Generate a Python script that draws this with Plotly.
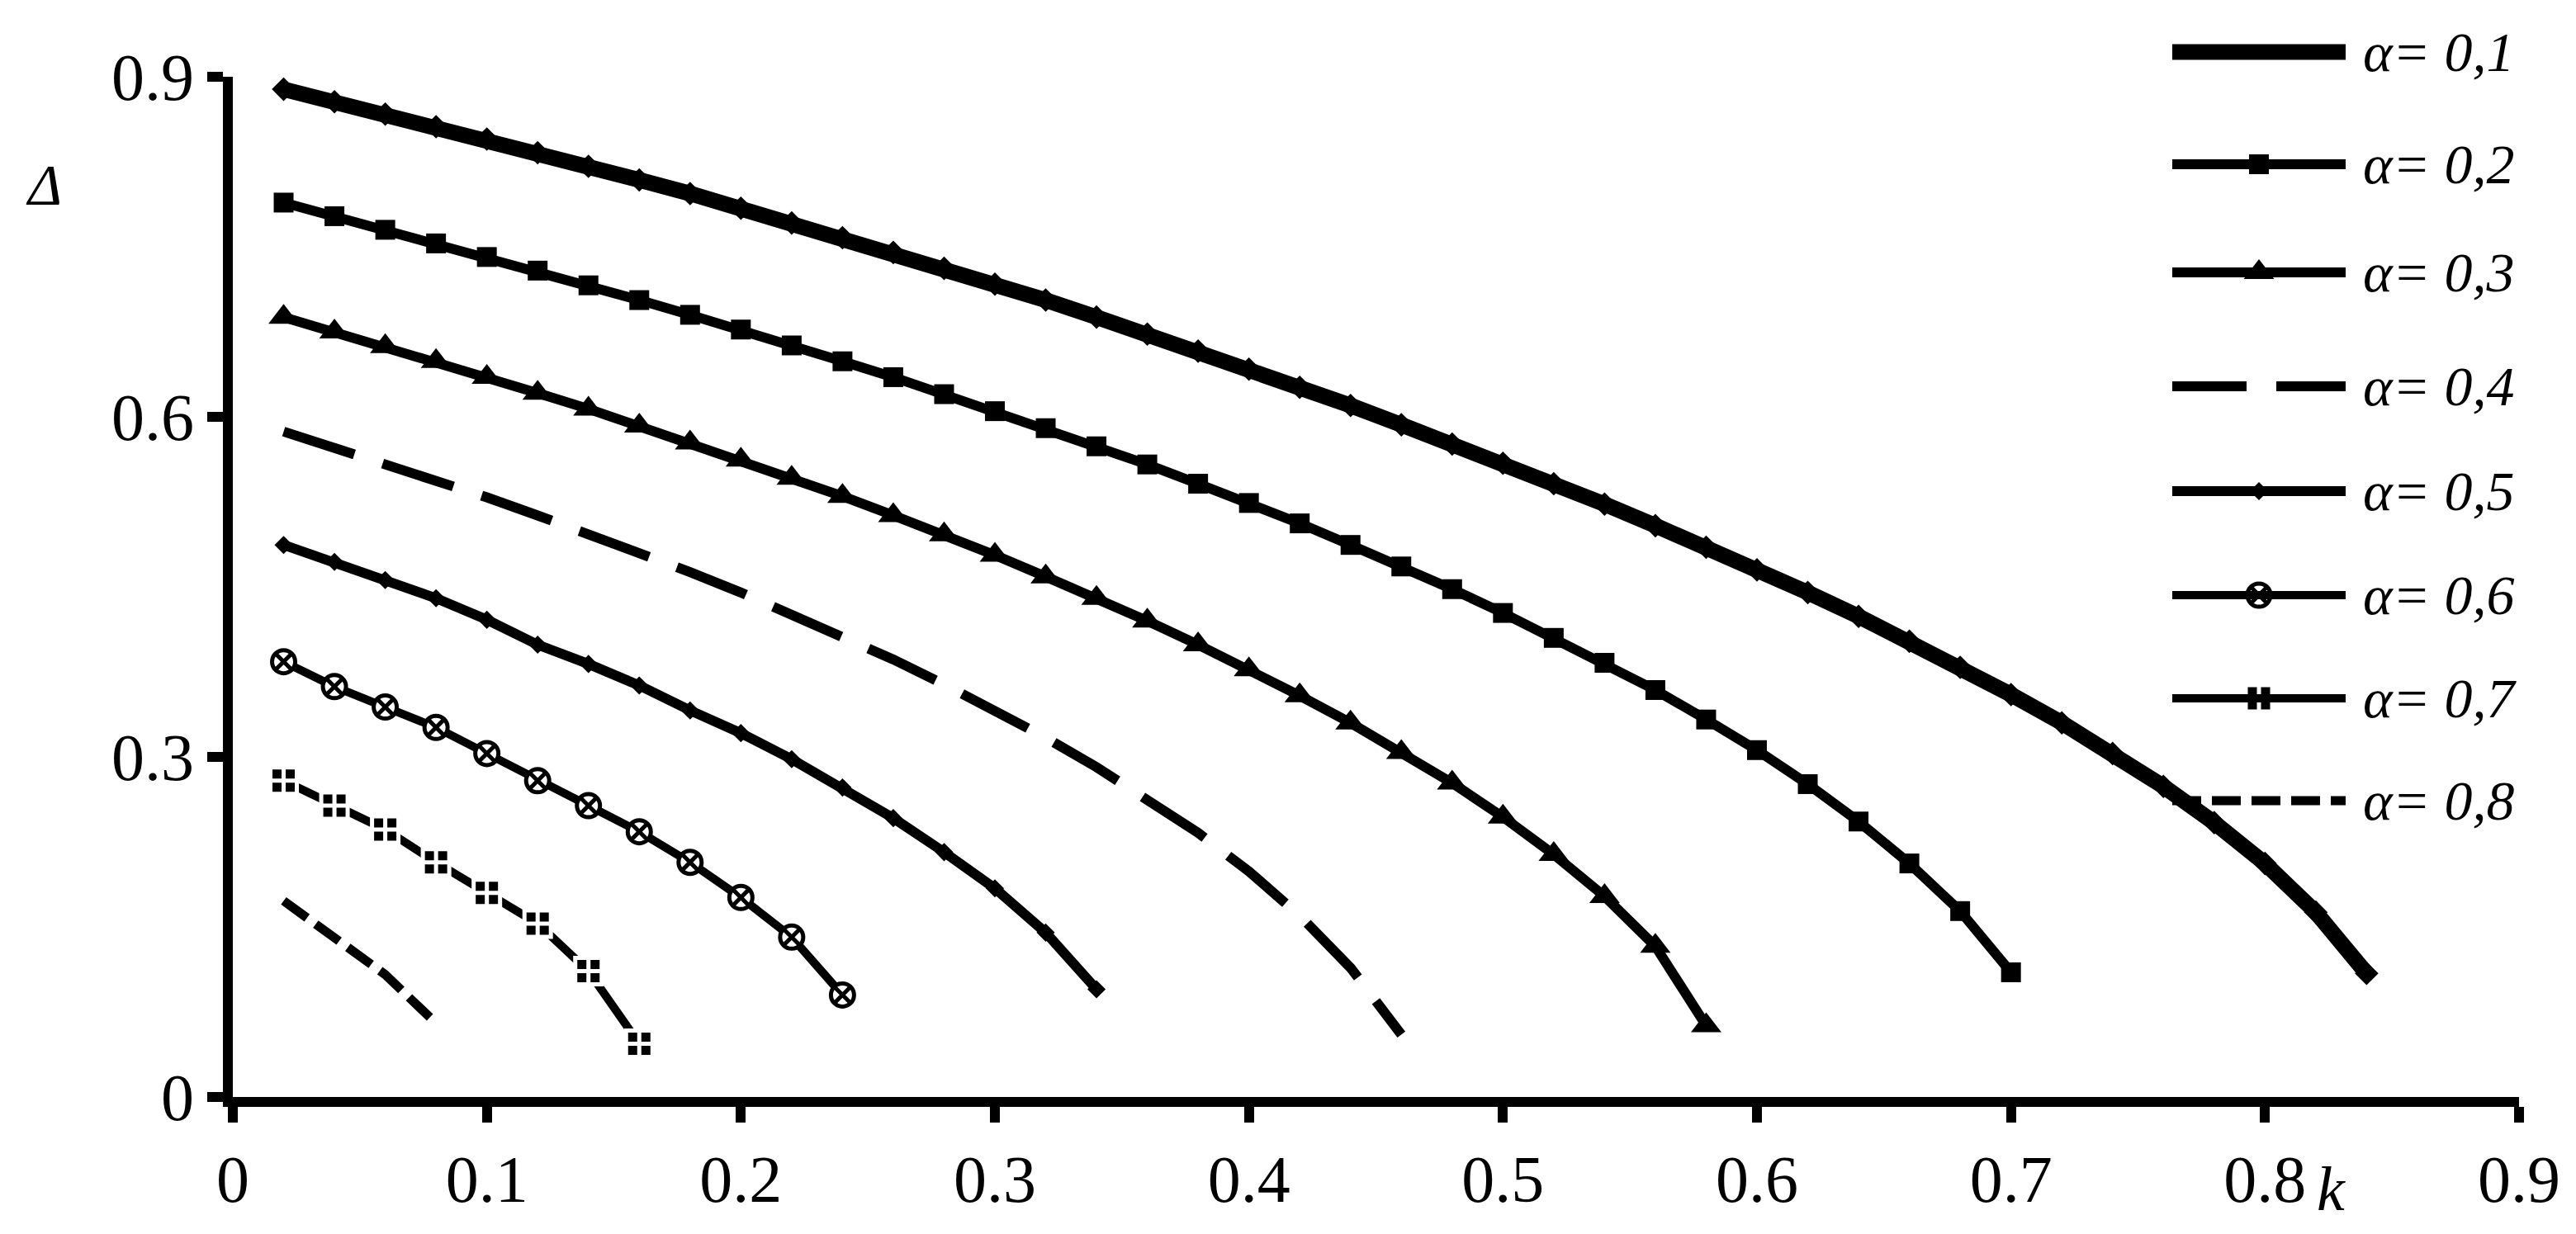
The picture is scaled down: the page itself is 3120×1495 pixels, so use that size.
import plotly.graph_objects as go

# ---------------- data ----------------
K = [0.02, 0.04, 0.06, 0.08, 0.10, 0.12, 0.14, 0.16, 0.18, 0.20,
     0.22, 0.24, 0.26, 0.28, 0.30, 0.32, 0.34, 0.36, 0.38, 0.40,
     0.42, 0.44, 0.46, 0.48, 0.50, 0.52, 0.54, 0.56, 0.58, 0.60,
     0.62, 0.64, 0.66, 0.68, 0.70, 0.72, 0.74, 0.76, 0.78, 0.80,
     0.82, 0.84]

d_a01 = [0.889, 0.878, 0.867, 0.856, 0.845, 0.833, 0.821, 0.809, 0.797, 0.784,
         0.771, 0.758, 0.745, 0.731, 0.717, 0.703, 0.688, 0.673, 0.658, 0.642,
         0.626, 0.610, 0.593, 0.576, 0.559, 0.541, 0.523, 0.504, 0.485, 0.465,
         0.445, 0.424, 0.402, 0.379, 0.355, 0.330, 0.303, 0.274, 0.242, 0.206,
         0.163, 0.109]
d_a02 = [0.789, 0.777, 0.765, 0.753, 0.741, 0.729, 0.716, 0.703, 0.690, 0.677,
         0.663, 0.649, 0.635, 0.620, 0.605, 0.590, 0.574, 0.558, 0.541, 0.524,
         0.506, 0.487, 0.468, 0.448, 0.427, 0.405, 0.383, 0.359, 0.333, 0.306,
         0.276, 0.243, 0.206, 0.164, 0.110]
d_a03 = [0.688, 0.675, 0.662, 0.649, 0.635, 0.621, 0.607, 0.592, 0.577, 0.562,
         0.546, 0.530, 0.513, 0.496, 0.478, 0.459, 0.440, 0.420, 0.399, 0.377,
         0.354, 0.330, 0.304, 0.277, 0.247, 0.214, 0.177, 0.133, 0.063]
d_a04 = [0.587, 0.573, 0.559, 0.544, 0.529, 0.513, 0.497, 0.480, 0.463, 0.445,
         0.426, 0.406, 0.386, 0.364, 0.341, 0.317, 0.291, 0.263, 0.233, 0.199,
         0.160, 0.114, 0.055]
d_a05 = [0.487, 0.472, 0.456, 0.440, 0.421, 0.399, 0.382, 0.363, 0.341, 0.321,
         0.298, 0.273, 0.246, 0.216, 0.184, 0.145, 0.095]
d_a06 = [0.384, 0.362, 0.344, 0.326, 0.303, 0.279, 0.257, 0.234, 0.207, 0.176,
         0.141, 0.090]
d_a07 = [0.279, 0.257, 0.236, 0.207, 0.180, 0.153, 0.111, 0.047]
d_a08 = [0.173, 0.140, 0.108, 0.065]

labels = ["α= 0,1", "α= 0,2", "α= 0,3", "α= 0,4",
          "α= 0,5", "α= 0,6", "α= 0,7", "α= 0,8"]
series = [d_a01, d_a02, d_a03, d_a04, d_a05, d_a06, d_a07, d_a08]

x_ticks = [0, 0.1, 0.2, 0.3, 0.4, 0.5, 0.6, 0.7, 0.8, 0.9]
x_ticktext = ["0", "0.1", "0.2", "0.3", "0.4", "0.5", "0.6", "0.7", "0.8", "0.9"]
y_ticks = [0, 0.3, 0.6, 0.9]
y_ticktext = ["0", "0.3", "0.6", "0.9"]

# ---------------- styles ----------------
W, H = 3120, 1495
ML, MR, MT, MB = 274, 77, 85, 174
FONT = "Liberation Serif, Times New Roman, serif"

styles = [
    dict(line=dict(width=19, dash="solid"),
         marker=dict(symbol="diamond", size=22, color="black")),
    dict(line=dict(width=12, dash="solid"),
         marker=dict(symbol="square", size=24, color="black")),
    dict(line=dict(width=12, dash="solid"),
         marker=dict(symbol="triangle-up", size=32, color="black")),
    dict(line=dict(width=12, dash="90px,36px"), marker=None),
    dict(line=dict(width=12, dash="solid"),
         marker=dict(symbol="diamond", size=17, color="black")),
    dict(line=dict(width=10, dash="solid"),
         marker=dict(symbol="circle-x", size=28, color="white",
                     line=dict(width=5, color="black"))),
    dict(line=dict(width=10, dash="solid"),
         marker=dict(symbol="square-cross", size=32, color="black",
                     line=dict(width=5, color="white"))),
    dict(line=dict(width=11, dash="35px,13px"), marker=None),
]

fig = go.Figure()
for lab, vals, st in zip(labels, series, styles):
    ln = dict(color="black", width=st["line"]["width"], dash=st["line"]["dash"])
    if st["marker"] is None:
        fig.add_trace(go.Scatter(x=K[:len(vals)], y=vals, mode="lines", line=ln,
                                 name=lab, showlegend=False))
    else:
        fig.add_trace(go.Scatter(x=K[:len(vals)], y=vals, mode="lines+markers",
                                 line=ln, marker=st["marker"], name=lab,
                                 showlegend=False))

# ---------------- hand-drawn legend (pixel layout) ----------------
LEG_Y = [55, 191, 322, 460, 587, 713, 838, 962]
LEG_X0, LEG_X1, LEG_TX = 2623, 2833, 2852
PW, PH = W - ML - MR, H - MT - MB


def px2paper_x(px):
    return (px - ML) / PW


def px2paper_y(py):
    return (H - MB - py) / PH


shapes = []
annotations = []
for lab, st, ry in zip(labels, styles, LEG_Y):
    shapes.append(dict(type="line", xref="paper", yref="paper",
                       x0=px2paper_x(LEG_X0), x1=px2paper_x(LEG_X1),
                       y0=px2paper_y(ry), y1=px2paper_y(ry),
                       line=dict(color="black", width=st["line"]["width"],
                                 dash=st["line"]["dash"])))
    annotations.append(dict(xref="paper", yref="paper",
                            x=px2paper_x(LEG_TX), y=px2paper_y(ry),
                            xanchor="left", yanchor="middle", showarrow=False,
                            text="<i>" + lab + "</i>",
                            font=dict(family=FONT, size=68, color="black")))
    if st["marker"] is not None:
        m = st["marker"]
        fig.add_trace(go.Scatter(
            x=[(LEG_X0 + LEG_X1) / 2], y=[ry], mode="markers",
            xaxis="x2", yaxis="y2", cliponaxis=False, showlegend=False,
            hoverinfo="skip",
            marker=dict(symbol=m["symbol"], size=m["size"],
                        color=m.get("color", "black"),
                        line=m.get("line", dict(width=0)))))

annotations.append(dict(xref="paper", yref="paper",
                        x=px2paper_x(45), y=px2paper_y(216),
                        xanchor="center", yanchor="middle", showarrow=False,
                        text="<i>Δ</i>",
                        font=dict(family=FONT, size=70, color="black")))
annotations.append(dict(xref="paper", yref="paper",
                        x=px2paper_x(2815), y=px2paper_y(1432),
                        xanchor="center", yanchor="middle", showarrow=False,
                        text="<i>k</i>",
                        font=dict(family=FONT, size=76, color="black")))

fig.update_layout(
    width=W, height=H,
    margin=dict(l=ML, r=MR, t=MT, b=MB, pad=0),
    paper_bgcolor="white", plot_bgcolor="white",
    showlegend=False,
    shapes=shapes, annotations=annotations,
    font=dict(family=FONT, color="black"),
    xaxis=dict(range=[0, 0.9], tickvals=x_ticks, ticktext=x_ticktext,
               showgrid=False, zeroline=False, showline=True, linewidth=12,
               linecolor="black", ticks="outside", ticklen=19, tickwidth=12,
               tickcolor="black", tickfont=dict(family=FONT, size=80, color="black")),
    yaxis=dict(range=[0, 0.9], tickvals=y_ticks, ticktext=y_ticktext,
               showgrid=False, zeroline=False, showline=True, linewidth=12,
               linecolor="black", ticks="outside", ticklen=19, tickwidth=12,
               tickcolor="black", tickfont=dict(family=FONT, size=80, color="black")),
    xaxis2=dict(overlaying="x", range=[ML, W - MR], visible=False),
    yaxis2=dict(overlaying="y", range=[H - MB, MT], visible=False),
)

fig.write_html("out.html")
